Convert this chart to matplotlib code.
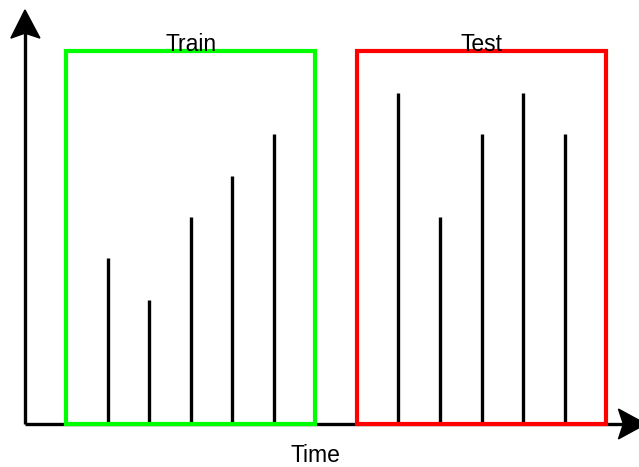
import matplotlib
matplotlib.use("Agg")
import matplotlib.pyplot as plt
from matplotlib.patches import Rectangle, Polygon

plt.rcParams['font.family'] = ['Liberation Sans', 'DejaVu Sans']

train_times = [2, 3, 4, 5, 6]
train_values = [4, 3, 5, 6, 7]
test_times = [9, 10, 11, 12, 13]
test_values = [8, 5, 7, 8, 7]
train_span = (1, 7)
test_span = (8, 14)
box_top = 9
labels = {"train": "Train", "test": "Test", "x": "Time"}

fig = plt.figure(figsize=(6.39, 4.67), dpi=100)
ax = fig.add_axes([0, 0, 1, 1])
ax.set_xlim(-0.602, 14.795)
ax.set_ylim(-1.039, 10.24)
ax.axis('off')

# axes lines
ax.plot([0, 0], [0, 9.5], color='black', lw=2.4, solid_capstyle='butt', zorder=2)
ax.plot([0, 14.4], [0, 0], color='black', lw=2.4, solid_capstyle='butt', zorder=2)
# arrowheads
ax.add_patch(Polygon([(0, 10), (-0.34, 9.32), (0, 9.44), (0.36, 9.32)],
                     closed=True, color='black', zorder=3))
ax.add_patch(Polygon([(14.96, 0), (14.3, 0.36), (14.42, 0), (14.3, -0.36)],
                     closed=True, color='black', zorder=3))

# bars
ax.vlines(train_times, 0, train_values, color='black', lw=2.4, zorder=2)
ax.vlines(test_times, 0, test_values, color='black', lw=2.4, zorder=2)

# boxes
ax.add_patch(Rectangle((train_span[0], 0), train_span[1] - train_span[0], box_top,
                       fill=False, edgecolor='#00ff00', lw=3.0, zorder=4))
ax.add_patch(Rectangle((test_span[0], 0), test_span[1] - test_span[0], box_top,
                       fill=False, edgecolor='#ff0000', lw=3.0, zorder=4))

ax.text((train_span[0] + train_span[1]) / 2, 9.0, labels["train"], ha='center',
        va='baseline', fontsize=16.5, zorder=5)
ax.text((test_span[0] + test_span[1]) / 2, 9.0, labels["test"], ha='center',
        va='baseline', fontsize=16.5, zorder=5)
ax.text(7.0, -0.91, labels["x"], ha='center', va='baseline', fontsize=16.5)

fig.savefig("out.png", dpi=100)
